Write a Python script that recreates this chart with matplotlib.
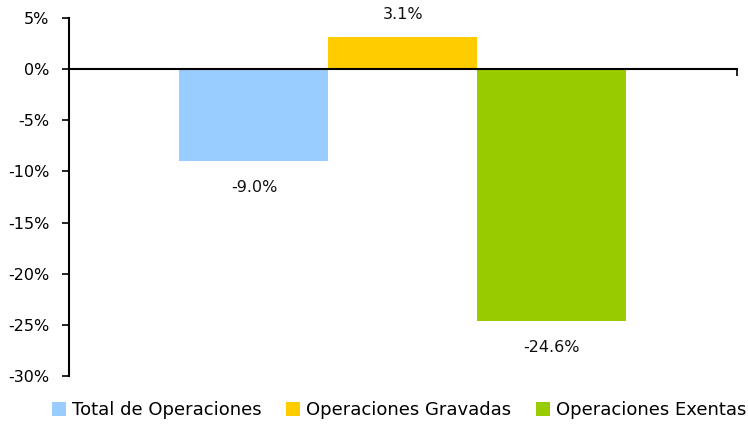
import matplotlib
matplotlib.use("Agg")
import matplotlib.pyplot as plt
from matplotlib.patches import Patch

categories = ["Total de Operaciones", "Operaciones Gravadas", "Operaciones Exentas"]
values = [-9.0, 3.1, -24.6]
colors = ["#99CCFF", "#FFCC00", "#99CC00"]
yticks = [5, 0, -5, -10, -15, -20, -25, -30]

plt.rcParams['font.family'] = ['DejaVu Sans']
fig = plt.figure(figsize=(7.48, 4.24), dpi=100)
ax = fig.add_axes([0.0922, 0.1132, 0.8928, 0.8443])

width = 0.223
offsets = [-width, 0, width]
for off, v, c in zip(offsets, values, colors):
    ax.bar(off, v, width=width, color=c, edgecolor='none', zorder=2)
    if v >= 0:
        ax.text(off, v + 2.2, f"{v:.1f}%", ha='center', va='center', fontsize=11.5, color='#111111')
    else:
        ax.text(off, v - 2.6, f"{v:.1f}%", ha='center', va='center', fontsize=11.5, color='#111111')

ax.set_xlim(-0.5, 0.5)
ax.set_ylim(-30, 5)
ax.set_yticks(yticks)
ax.set_yticklabels([f"{t}%" for t in yticks], fontsize=11.5)
ax.spines['top'].set_visible(False)
ax.spines['right'].set_visible(False)
ax.spines['bottom'].set_position(('data', 0))
ax.spines['bottom'].set_linewidth(1.5)
ax.spines['left'].set_linewidth(1.5)
ax.spines['bottom'].set_zorder(3)
ax.set_xticks([-0.5, 0.5])
ax.set_xticklabels(["", ""])
ax.tick_params(axis='x', direction='out', length=5, width=1.2)
ax.tick_params(axis='y', direction='out', length=5, width=1.2, pad=9)

handles = [Patch(facecolor=c, edgecolor='none') for c in colors]
fig.legend(handles, categories, loc='center left', bbox_to_anchor=(52 / 748, 1 - 410 / 424), ncol=3,
           frameon=False, fontsize=13, handlelength=0.78, handleheight=0.78,
           handletextpad=0.3, columnspacing=1.4, borderpad=0, borderaxespad=0)

fig.savefig("out.png", dpi=100)
